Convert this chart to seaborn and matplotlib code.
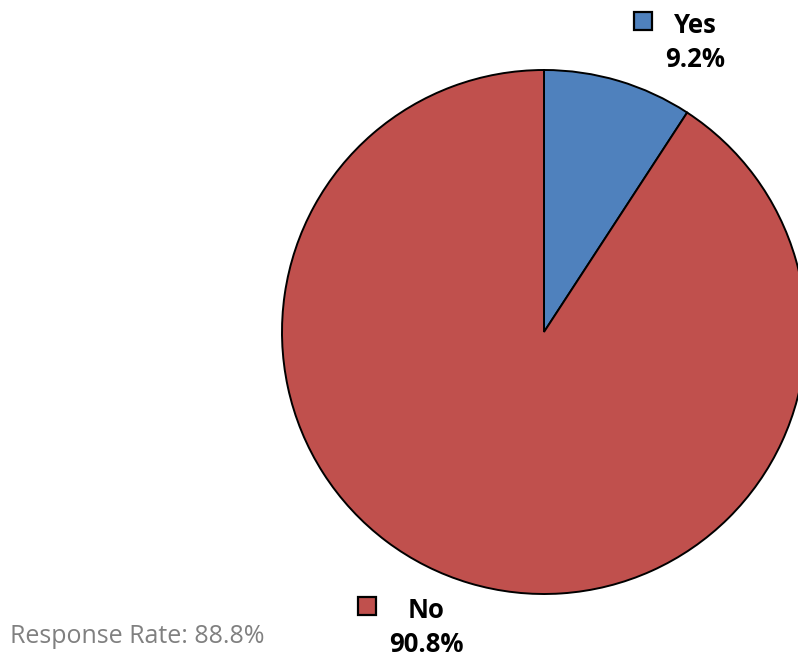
import matplotlib.pyplot as plt
import seaborn as sns

labels = ["Yes", "No"]
values = [9.2, 90.8]
colors = ["#4F81BD", "#C0504D"]
response_rate = 88.8

sns.set_style("white")
plt.rcParams["font.family"] = ["Open Sans", "DejaVu Sans"]

W, H = 798, 657
fig = plt.figure(figsize=(W / 100, H / 100), dpi=100)
ax = fig.add_axes([0, 0, 1, 1])

cx, cy, r = 544, H - 332, 262
wedges, _ = ax.pie(
    values, colors=colors, startangle=90, counterclock=False,
    center=(cx, cy), radius=r, frame=True,
    wedgeprops={"edgecolor": "black", "linewidth": 1.4},
)
ax.set_xlim(0, W)
ax.set_ylim(0, H)
ax.set_aspect("equal")
ax.axis("off")

# label layout (pixels from top-left): marker x, marker y, text x, name baseline, pct baseline
label_pos = {
    "Yes": (643, 21, 695, 33, 67),
    "No": (367, 606, 426, 618, 652),
}
for lab, val, col in zip(labels, values, colors):
    mx, my, tx, ty, py = label_pos[lab]
    ax.plot(mx, H - my, marker="s", markersize=12.5, markerfacecolor=col,
            markeredgecolor="black", markeredgewidth=1.6, clip_on=False)
    ax.text(tx, H - ty, lab, ha="center", va="baseline", fontsize=18.5,
            fontweight="bold", color="black")
    ax.text(tx, H - py, f"{val:.1f}%", ha="center", va="baseline",
            fontsize=18.5, fontweight="bold", color="black")

ax.text(10, H - 643, f"Response Rate: {response_rate:.1f}%", ha="left",
        va="baseline", fontsize=18, color="#808080")

fig.savefig("out.png", dpi=100)
